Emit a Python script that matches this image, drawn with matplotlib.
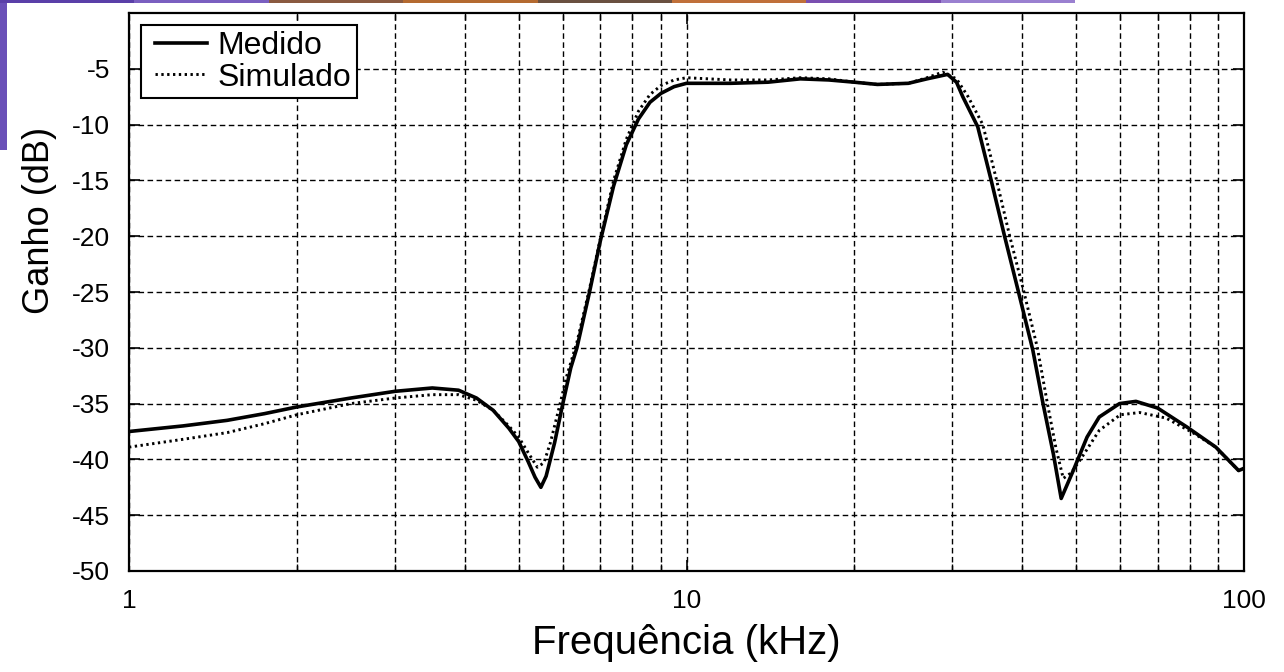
import matplotlib
matplotlib.use("Agg")
import matplotlib.pyplot as plt
from matplotlib.patches import Rectangle
from matplotlib.legend_handler import HandlerLine2D
from matplotlib.ticker import LogLocator, FixedLocator, NullFormatter, FixedFormatter

# ---- data ----
freq_medido = [1.0, 1.25, 1.5, 1.75, 2.0, 2.5, 3.0, 3.5, 3.9, 4.2, 4.5, 4.8, 5.0, 5.2,
               5.35, 5.48, 5.6, 5.8, 6.0, 6.2, 6.36, 6.7, 7.0, 7.4, 7.8, 8.2, 8.6, 9.0,
               9.5, 10, 12, 14, 16, 18, 20, 22, 25, 27, 29.4, 30.5, 31.3, 33.3, 35.2,
               37.2, 39.4, 41.8, 43.6, 45.5, 47.0, 49.4, 52.3, 55, 59.8, 64, 70, 79, 89,
               97.8, 100]
gain_medido = [-37.5, -37.0, -36.5, -35.9, -35.3, -34.5, -33.9, -33.6, -33.8, -34.5,
               -35.6, -37.2, -38.4, -40.2, -41.6, -42.5, -41.5, -38.5, -35.0, -31.8,
               -30.0, -25.0, -20.5, -15.5, -11.8, -9.5, -8.0, -7.2, -6.6, -6.3, -6.3,
               -6.2, -5.9, -6.0, -6.2, -6.4, -6.3, -5.9, -5.5, -6.2, -7.5, -10.2, -15.0,
               -20.0, -25.0, -30.2, -35.0, -39.5, -43.5, -41.0, -38.0, -36.2, -35.0,
               -34.8, -35.4, -37.1, -38.9, -41.0, -40.8]

freq_simulado = [1.0, 1.25, 1.5, 1.75, 2.0, 2.5, 3.0, 3.5, 3.9, 4.2, 4.5, 4.8, 5.0, 5.2,
                 5.4, 5.55, 5.7, 5.9, 6.1, 6.36, 6.7, 7.0, 7.4, 7.8, 8.2, 8.6, 9.0, 9.5,
                 10, 12, 14, 16, 18, 20, 22, 25, 27, 28.8, 30.5, 32, 34, 36, 38, 40.3,
                 42.6, 44.4, 46, 47.4, 49, 50.9, 55, 60, 65, 72.5, 80.9, 89, 97.8, 100]
gain_simulado = [-38.9, -38.2, -37.6, -36.8, -36.0, -35.0, -34.5, -34.2, -34.2, -34.7,
                 -35.6, -37.0, -38.0, -39.4, -40.7, -40.3, -38.5, -35.5, -32.5, -29.5,
                 -24.7, -20.3, -15.0, -11.3, -8.8, -7.3, -6.5, -6.0, -5.8, -6.0, -6.0,
                 -5.8, -5.9, -6.2, -6.4, -6.3, -5.8, -5.3, -5.9, -7.5, -10.0, -15.0,
                 -20.0, -25.0, -30.0, -35.0, -39.0, -41.7, -41.2, -40.0, -37.4, -36.0,
                 -35.8, -36.3, -37.6, -38.9, -41.0, -40.8]

series_labels = ["Medido", "Simulado"]
x_tick_values = [1, 10, 100]
x_tick_labels = ["1", "10", "100"]
y_tick_values = [-50, -45, -40, -35, -30, -25, -20, -15, -10, -5]
y_tick_labels = ["-50", "-45", "-40", "-35", "-30", "-25", "-20", "-15", "-10", "-5"]

plt.rcParams['font.family'] = ['Liberation Sans', 'DejaVu Sans']

fig = plt.figure(figsize=(12.84, 6.72), dpi=100)
ax = fig.add_axes([129/1284, 1 - 571/672, (1244-129)/1284, (571-13)/672])

# decorative background remnants (left/top edges)
fig.patches.append(Rectangle((0, 1 - 150/672), 7/1284, 150/672, transform=fig.transFigure,
                             facecolor='#6a50b8', edgecolor='none', zorder=0))
band_cols = ['#5a3fa8', '#7a5fc0', '#8a5a40', '#b46a30', '#6a5040', '#c0703a', '#7a4fb0', '#9a80d0']
n = len(band_cols)
for i, c in enumerate(band_cols):
    fig.patches.append(Rectangle((i * (1075/1284) / n, 1 - 3/672), (1075/1284) / n, 3/672,
                                 transform=fig.transFigure, facecolor=c, edgecolor='none', zorder=0))

l1, = ax.plot(freq_medido, gain_medido, color='black', lw=2.6, ls='-',
              label=series_labels[0], zorder=3)
l2, = ax.plot(freq_simulado, gain_simulado, color='black', lw=2.1, ls=(0, (0.8, 1.2)),
              label=series_labels[1], zorder=3)

ax.set_xscale('log')
ax.set_xlim(1, 100)
ax.set_ylim(-50, 0)
ax.xaxis.set_major_locator(FixedLocator(x_tick_values))
ax.xaxis.set_major_formatter(FixedFormatter(x_tick_labels))
ax.xaxis.set_minor_locator(LogLocator(base=10, subs=range(2, 10)))
ax.xaxis.set_minor_formatter(NullFormatter())
ax.yaxis.set_major_locator(FixedLocator(y_tick_values))
ax.yaxis.set_major_formatter(FixedFormatter(y_tick_labels))

ax.grid(True, which='major', axis='both', color='black', lw=1.0, ls=(0, (4, 2.5)))
ax.grid(True, which='minor', axis='x', color='black', lw=1.0, ls=(0, (4, 2.5)))

ax.tick_params(axis='both', which='major', direction='in', length=8, width=1.2,
               top=True, right=True, labelsize=19, colors='black')
ax.tick_params(axis='y', which='major', pad=13.5)
ax.tick_params(axis='x', which='major', pad=13)
ax.tick_params(axis='x', which='minor', direction='in', length=5, width=1.0,
               top=True, bottom=True)
for s in ax.spines.values():
    s.set_linewidth(1.6)
    s.set_color('black')

ax.set_xlabel('Frequência (kHz)', fontsize=29, labelpad=8)
ax.set_ylabel('Ganho (dB)', fontsize=26)
ax.yaxis.set_label_coords((57 - 129) / 1115, (571 - 220) / 558)

hmap = {l1: HandlerLine2D(xpad=0.25), l2: HandlerLine2D(xpad=0.25)}
leg = ax.legend(handles=[l1, l2], handler_map=hmap, loc='upper left',
                bbox_to_anchor=(0.011, 0.978), borderaxespad=0,
                fontsize=23, frameon=True, fancybox=False, edgecolor='black',
                framealpha=1, handlelength=1.87, handletextpad=0.345, labelspacing=0.05,
                borderpad=0.18)
leg.get_frame().set_linewidth(1.5)

fig.savefig('out.png', dpi=100)
